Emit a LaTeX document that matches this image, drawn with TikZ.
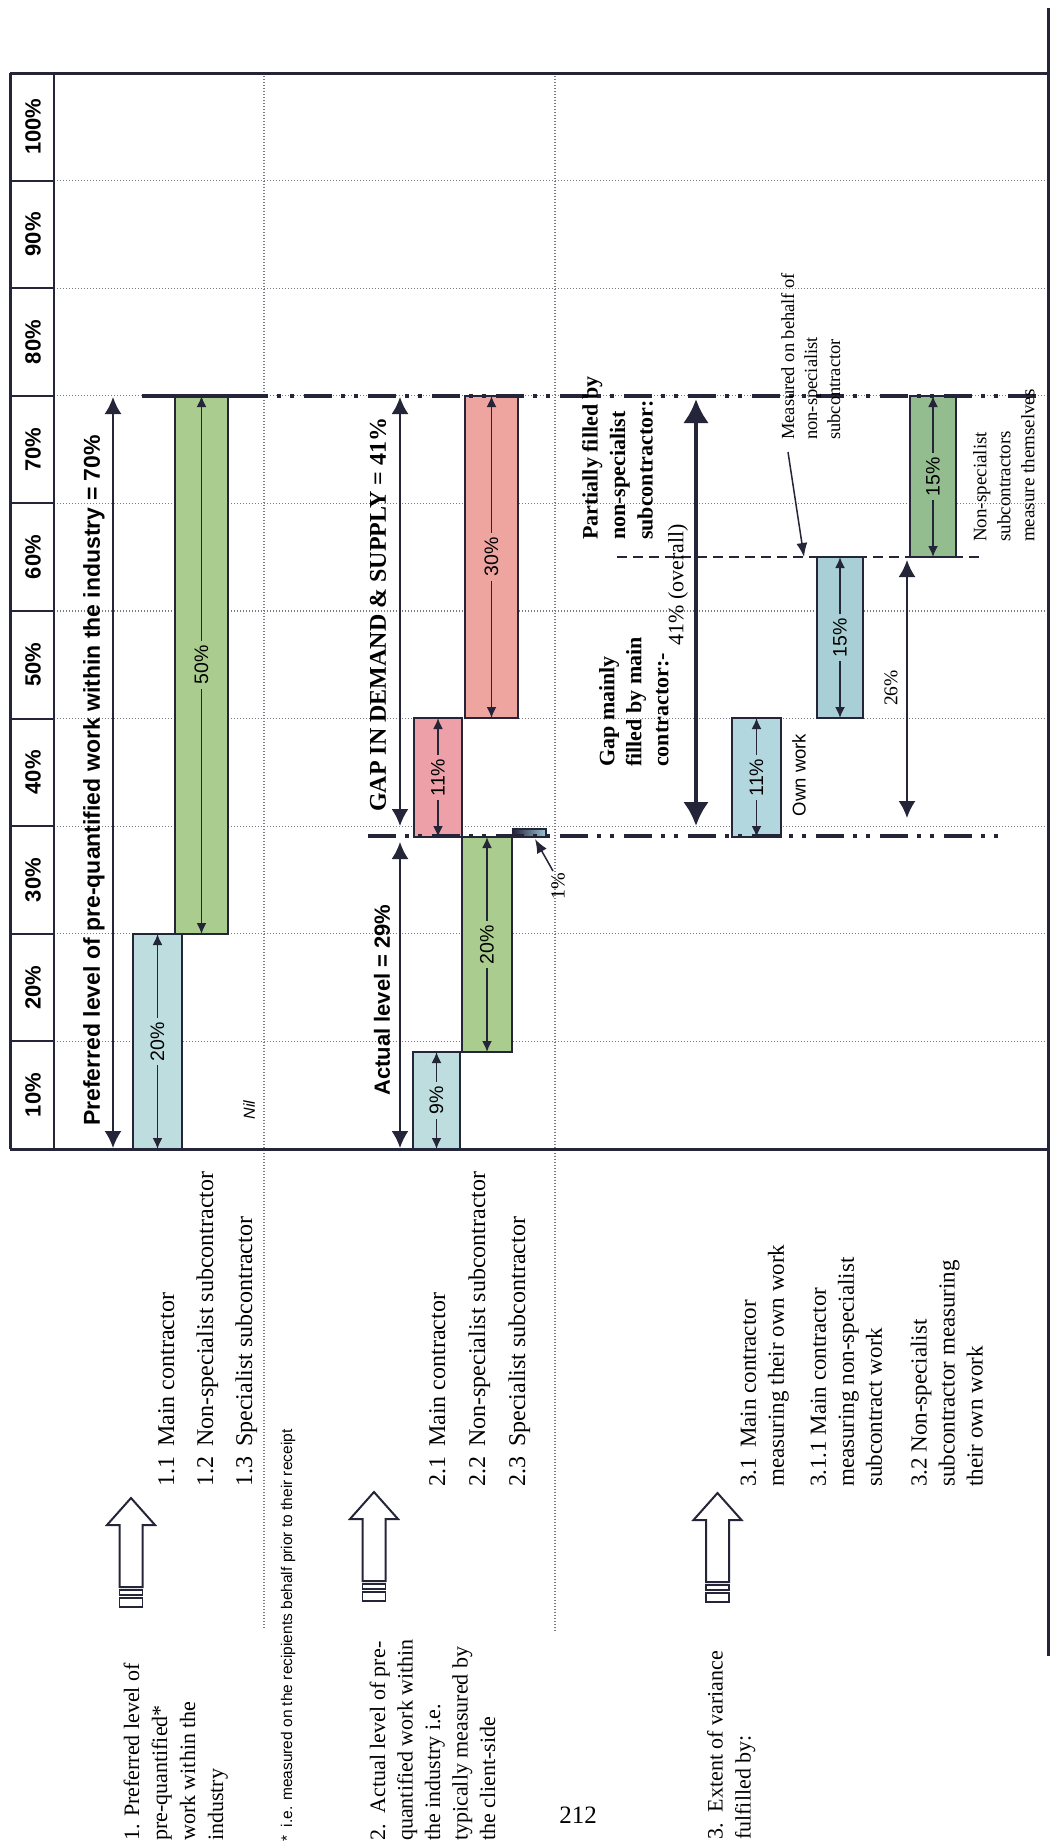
\documentclass[tikz,border=0pt]{standalone}
\usepackage{fontspec}
\setmainfont{Liberation Serif}
\setsansfont{Liberation Sans}
\newfontfamily\footfont{Liberation Sans}
\usetikzlibrary{arrows.meta}
\newcommand\setfs[2]{\fontsize{#1pt}{#2pt}\selectfont}

\definecolor{linec}{HTML}{25253A}
\definecolor{gridc}{HTML}{7A7A85}
\definecolor{cmain}{HTML}{BDDDDE}
\definecolor{cown}{HTML}{B3D7DE}
\definecolor{cgreen}{HTML}{AACC8E}
\definecolor{cred}{HTML}{EEA5A0}
\definecolor{cpink}{HTML}{EDA0A8}
\definecolor{cblue}{HTML}{A8CFD6}
\definecolor{cteal}{HTML}{93BD8F}
\definecolor{ctiny}{HTML}{9CC4D4}

% one bar of the chart: name, x1, y1, x2, y2, fill, label
\newcommand\chartbar[7]{%
  \node[barbox, fill=#6, minimum width={#4-#2}, minimum height={#5-#3}] (#1) at ({(#2+#4)/2},{(#3+#5)/2}) {};
  \draw[bararrow] (#1.south) -- (#1.north);
  \node[rot, fill=#6, inner xsep=4pt, inner ysep=1pt, font=\sffamily\setfs{19.5}{24}] (#1l) at (#1.center) {#7};
}

\tikzset{
  rot/.style={rotate=90, inner sep=0pt},
  gridline/.style={line width=1.1pt, draw=gridc, dash pattern=on 1.1pt off 1.9pt},
  cellrule/.style={line width=2pt, draw=linec},
  frame/.style={line width=3pt, draw=linec},
  barbox/.style={draw=linec, line width=2.2pt, inner sep=0pt, outer sep=0pt, rectangle},
  bararrow/.style={line width=1.8pt, draw=linec, {Latex[length=11pt,width=10pt]}-{Latex[length=11pt,width=10pt]}},
  dimarrow/.style={line width=2pt, draw=linec, {Latex[length=17pt,width=17pt]}-{Latex[length=17pt,width=17pt]}},
  heavyarrow/.style={line width=4.5pt, draw=linec, {Latex[length=24pt,width=26pt]}-{Latex[length=24pt,width=26pt]}},
  pointer/.style={line width=1.5pt, draw=linec, -{Latex[length=14pt,width=11pt]}},
  levelline/.style={line width=4.5pt, draw=linec, dash pattern=on 28pt off 9pt on 4pt off 9pt on 4pt off 10pt},
  levelsolid/.style={line width=4.5pt, draw=linec},
  halfline/.style={line width=2.4pt, draw=linec, dash pattern=on 10pt off 6pt},
  blockarrow/.pic={
    \draw[line width=2pt, draw=linec, fill=white, line join=miter]
      (0,0) -- (24,27) -- (11.5,27) -- (11.5,89) -- (-11.5,89) -- (-11.5,27) -- (-24,27) -- cycle;
    \draw[line width=1.6pt, draw=linec, fill=white] (-11.5,92) rectangle (11.5,97);
    \draw[line width=1.6pt, draw=linec, fill=white] (-11.5,100) rectangle (11.5,109);
  }
}

\begin{document}
\begin{tikzpicture}[x=1pt,y=-1pt]
\useasboundingbox (0,0) rectangle (1057,1847);
\fill[white] (0,0) rectangle (1057,1847);

% percentage grid
\foreach \k in {1,...,9} {
  \draw[gridline] (54,{1149-107.6*\k}) -- (1048,{1149-107.6*\k});
  \draw[cellrule] (10,{1149-107.6*\k}) -- (54,{1149-107.6*\k});
}
\draw[gridline] (264,73) -- (264,1628);
\draw[gridline] (555,73) -- (555,1632);

% scale labels
\foreach \k in {1,...,10}
  \node[rot, font=\sffamily\bfseries\setfs{22}{26}] (h\k) at (33,{1149-107.6*(\k-0.5)}) {\k0\%};

% frame
\draw[frame] (1048,8) -- (1048,1656);
\draw[frame] (10,73) -- (1048,73);
\draw[frame] (10,1149) -- (1048,1149);
\draw[frame] (10,73) -- (10,1149);
\draw[cellrule] (54,73) -- (54,1149);

% row 1: preferred level
\chartbar{b11}{133}{934}{182}{1149}{cmain}{20\%}
\chartbar{b12}{175}{396}{228}{934}{cgreen}{50\%}
\node[rot, font=\sffamily\itshape\setfs{16}{20}] (nil) at (249,1110) {Nil};

% row 2: actual level and gap
\chartbar{b21}{413}{1052}{460}{1149}{cmain}{9\%}
\chartbar{b22}{462}{837}{512}{1052}{cgreen}{20\%}
\chartbar{b24}{414}{718}{462}{837}{cpink}{11\%}
\chartbar{b25}{465}{396}{518}{718}{cred}{30\%}
\node[barbox, left color=linec, right color=ctiny, minimum width=33, minimum height=8] (b23) at (529.5,833) {};

% row 3: how the gap is filled
\chartbar{b31}{732}{718}{781}{837}{cown}{11\%}
\chartbar{b311}{817}{557}{863}{718}{cblue}{15\%}
\chartbar{b32}{910}{396}{956}{557}{cteal}{15\%}

% level lines at 70%, 29% and 55%
\coordinate (s70a) at (142,396);
\coordinate (s70b) at (240,396);
\coordinate (s70c) at (1038,396);
\draw[levelsolid] (s70a) -- (s70b);
\draw[levelline] (s70b) -- (s70c);
\coordinate (s29a) at (368,836);
\coordinate (s29b) at (998,836);
\draw[levelline] (s29a) -- (s29b);
\coordinate (s55a) at (617,557);
\coordinate (s55b) at (980,557);
\draw[halfline] (s55a) -- (s55b);

% dimension arrows
\coordinate (pa) at (113,1148);
\coordinate (pb) at (113,397);
\draw[dimarrow] (pa) -- (pb);
\coordinate (aa) at (400,1148);
\coordinate (ab) at (400,842);
\draw[dimarrow] (aa) -- (ab);
\coordinate (ga) at (400,826);
\coordinate (gb) at (400,397);
\draw[dimarrow] (ga) -- (gb);
\coordinate (oa) at (696,826);
\coordinate (ob) at (696,399);
\draw[heavyarrow] (oa) -- (ob);
\coordinate (sa) at (907,818);
\coordinate (sb) at (907,560);
\draw[dimarrow] (sa) -- (sb);

% chart texts
\node[rot, anchor=west, font=\sffamily\bfseries\setfs{23}{27}] (tpref) at (94,1126)
  {Preferred level of pre-quantified work within the industry = 70\%};
\node[rot, anchor=west, font=\sffamily\bfseries\setfs{22}{26}] (tact) at (382,1096) {Actual level = 29\%};
\node[rot, anchor=west, font=\bfseries\setfs{24}{28}] (tgap) at (378,812) {GAP IN DEMAND \& SUPPLY = 41\%};
\node[rot, anchor=north west, align=left, font=\bfseries\setfs{22}{27.5}] (tpart) at (582,540)
  {Partially filled by\\non-specialist\\subcontractor:};
\node[rot, anchor=north west, align=left, font=\bfseries\setfs{22}{27}] (tgapm) at (599,767)
  {Gap mainly\\filled by main\\contractor:-};
\node[rot, font=\setfs{22}{26}] (t41) at (678,585) {41\% (overall)};
\node[rot, font=\sffamily\setfs{18.5}{24}] (town) at (799,775) {Own work};
\node[rot, font=\setfs{19.5}{24}] (t26) at (891,688) {26\%};
\node[rot, anchor=north west, align=left, font=\setfs{18.5}{23}] (tmeas) at (781,440)
  {Measured on behalf of\\non-specialist\\subcontractor};
\node[rot, anchor=north west, align=left, font=\setfs{19}{24}] (tnss) at (973,542)
  {Non-specialist\\subcontractors\\measure themselves};
\node[rot, font=\setfs{20}{24}] (tone) at (558,886) {1\%};

% pointers
\coordinate (ma) at (788,452);
\coordinate (mb) at (804,557);
\draw[pointer] (ma) -- (mb);
\coordinate (ta) at (553,871);
\coordinate (tb) at (535,839);
\draw[pointer] (ta) -- (tb);

% key on the left
\pic at (131,1498) {blockarrow};
\pic at (374,1492) {blockarrow};
\pic at (717.5,1493) {blockarrow};

\node[rot, anchor=north west, align=left, font=\setfs{22}{28}] (k1) at (123.5,1841)
  {1. Preferred level of\\pre-quantified*\\work within the\\industry};
\node[rot, anchor=west, font=\footfont\setfs{15.5}{18}] (foot) at (288,1842)
  {* \ i.e. measured on the recipients behalf prior to their receipt};
\node[rot, anchor=north west, align=left, font=\setfs{22}{27.5}] (k2) at (369.5,1841)
  {2.\ \ Actual level of pre-\\quantified work within\\the industry i.e.\\typically measured by\\the client-side};
\node[rot, anchor=north west, align=left, font=\setfs{22}{28}] (k3) at (707,1840)
  {3.\ \ Extent of variance\\fulfilled by:};

\node[rot, anchor=north west, align=left, font=\setfs{24}{39}] (k1l) at (158,1487)
  {\makebox[40pt][l]{1.1}Main contractor\\\makebox[40pt][l]{1.2}Non-specialist subcontractor\\\makebox[40pt][l]{1.3}Specialist subcontractor};
\node[rot, anchor=north west, align=left, font=\setfs{24}{40}] (k2l) at (429,1487)
  {\makebox[40pt][l]{2.1}Main contractor\\\makebox[40pt][l]{2.2}Non-specialist subcontractor\\\makebox[40pt][l]{2.3}Specialist subcontractor};
\node[rot, anchor=north west, align=left, font=\setfs{23}{28}] (k31) at (740.5,1487)
  {\makebox[39pt][l]{3.1}Main contractor\\measuring their own work};
\node[rot, anchor=north west, align=left, font=\setfs{23}{28}] (k311) at (810.5,1487)
  {3.1.1 Main contractor\\measuring non-specialist\\subcontract work};
\node[rot, anchor=north west, align=left, font=\setfs{23}{28}] (k32) at (910.5,1487)
  {3.2 Non-specialist\\subcontractor measuring\\their own work};

\node[inner sep=0pt, font=\setfs{25}{30}] (pg) at (578,1815) {212};
\end{tikzpicture}
\end{document}
